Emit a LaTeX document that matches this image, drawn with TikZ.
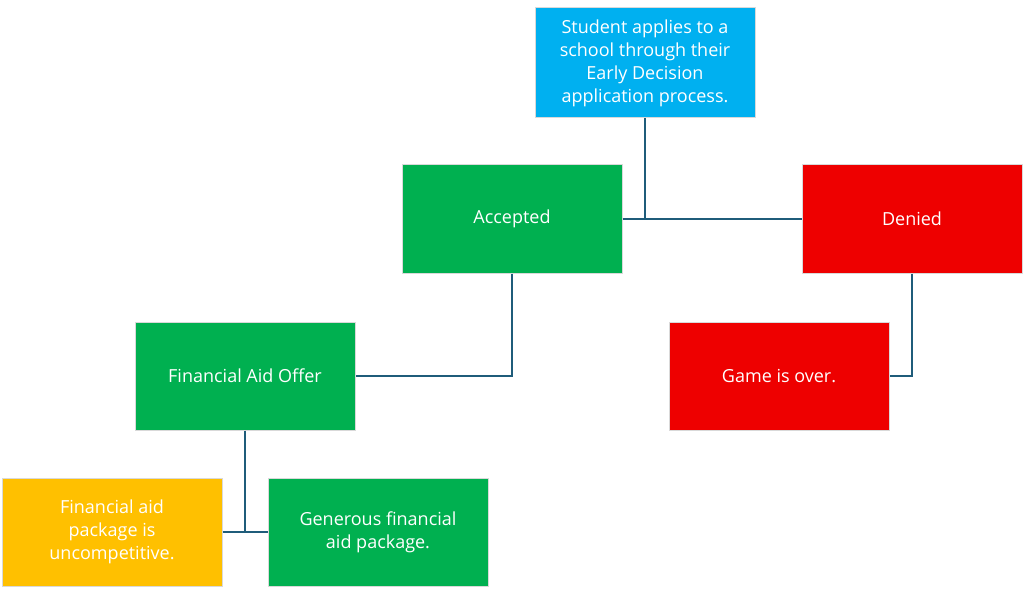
\documentclass[tikz,border=0pt]{standalone}
\usepackage{fontspec}
\setmainfont{Open Sans}
\begin{document}
\begin{tikzpicture}[x=1pt,y=-1pt,
  box/.style={draw=black!15,line width=1pt,minimum width=220pt,minimum height=108pt,text=white,align=center,font=\fontsize{18}{23}\selectfont,inner sep=2pt},
  conn/.style={draw=cline,line width=2.5pt}]
\definecolor{cline}{HTML}{1F5C7A}
\definecolor{cblue}{HTML}{00B0F0}
\definecolor{cgreen}{HTML}{00B050}
\definecolor{cred}{HTML}{EE0000}
\definecolor{cyellow}{HTML}{FFC000}
\path[use as bounding box] (0,0) rectangle (1024,596);
\node[box,fill=cblue,minimum height=110pt] (s) at (645,63) {Student applies to a\\school through their\\Early Decision\\application process.};
\node[box,fill=cgreen] (a) at (512,219) {Accepted};
\node[box,fill=cred] (d) at (912,219) {Denied};
\node[box,fill=cgreen] (f) at (245,376) {Financial Aid Offer};
\node[box,fill=cred] (g) at (779,376) {Game is over.};
\node[box,fill=cyellow] (u) at (112,532) {Financial aid\\package is\\uncompetitive.};
\node[box,fill=cgreen] (p) at (378,532) {Generous financial\\aid package.};
\coordinate (j1) at (645,219);
\coordinate (j2) at (245,532);
\draw[conn] (s.south) -- (j1);
\draw[conn] (a.east) -- (d.west);
\draw[conn] (a.south) |- (f.east);
\draw[conn] (d.south) |- (g.east);
\draw[conn] (f.south) -- (j2);
\draw[conn] (u.east) -- (p.west);
\end{tikzpicture}
\end{document}
